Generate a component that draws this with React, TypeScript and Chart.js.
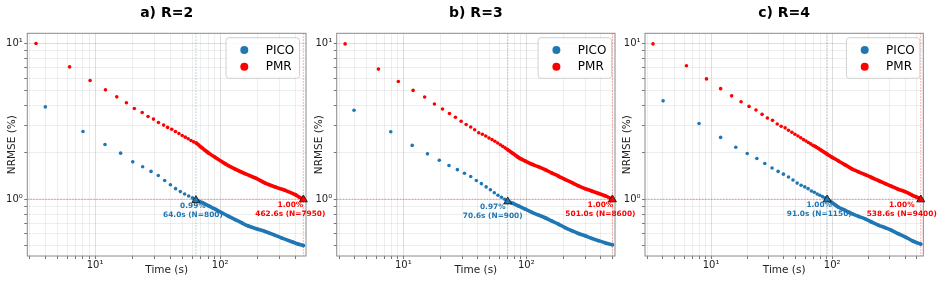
import React, { useEffect, useRef } from "react";
import { Chart, registerables } from "chart.js";

Chart.register(...registerables);

const FONT = "'DejaVu Sans', 'Liberation Sans', sans-serif";
const BLUE = "#1f77b4";
const RED = "#ff0000";

// ---------- tick values (log axes) ----------
const X_TICKS = [3, 4, 5, 6, 7, 8, 9, 10, 20, 30, 40, 50, 60, 70, 80, 90, 100, 200, 300, 400, 500];
const Y_TICKS = [0.5, 0.6, 0.7, 0.8, 0.9, 1, 2, 3, 4, 5, 6, 7, 8, 9, 10];
const X_LABELS: Record<number, string> = { 10: "10¹", 100: "10²" };
const Y_LABELS: Record<number, string> = { 1: "10⁰", 10: "10¹" };
const TITLES = ["a) R=2", "b) R=3", "c) R=4"];
const SERIES = ["PICO", "PMR"];

// ---------- panel a) R=2 ----------
const A_PICO_T = [4.0, 8.0, 12.0, 16.0, 20.0, 24.0, 28.0, 32.0, 36.0, 40.0, 44.0, 48.0, 52.0, 56.0, 60.0, 64.0, 72, 81, 92, 103, 117, 132, 150, 168, 198, 229, 270, 312, 380, 420, 462.6];
const A_PICO_V = [3.93, 2.73, 2.25, 1.98, 1.74, 1.62, 1.51, 1.42, 1.32, 1.24, 1.17, 1.12, 1.08, 1.05, 1.02, 0.99, 0.95, 0.905, 0.86, 0.818, 0.775, 0.738, 0.702, 0.672, 0.643, 0.62, 0.59, 0.562, 0.53, 0.515, 0.503];
const A_PMR_T = [3.37, 6.25, 9.12, 12.1, 14.9, 17.8, 20.6, 23.8, 26.5, 29.3, 32.1, 35.3, 38.0, 41.0, 43.9, 46.8, 49.7, 52.6, 55.5, 58.4, 61.3, 64.3, 70, 76, 81, 91, 110, 132, 158, 191, 229, 275, 331, 398, 430, 462.6];
const A_PMR_V = [10.05, 7.11, 5.81, 5.06, 4.56, 4.18, 3.84, 3.62, 3.41, 3.28, 3.12, 3.0, 2.9, 2.82, 2.73, 2.65, 2.57, 2.51, 2.45, 2.39, 2.34, 2.3, 2.17, 2.06, 1.98, 1.86, 1.69, 1.56, 1.46, 1.37, 1.27, 1.2, 1.14, 1.07, 1.03, 1.0];

// ---------- panel b) R=3 ----------
const B_PICO_T = [3.97, 7.9, 11.8, 15.7, 19.6, 23.5, 27.5, 31.4, 35.3, 39.2, 43.1, 47.1, 51.0, 54.9, 58.8, 62.8, 66.7, 70.6, 78, 86, 98, 111, 125, 142, 160, 182, 206, 234, 265, 300, 340, 385, 440, 501];
const B_PICO_V = [3.74, 2.72, 2.22, 1.96, 1.78, 1.65, 1.55, 1.47, 1.4, 1.32, 1.26, 1.2, 1.15, 1.1, 1.06, 1.03, 1.0, 0.97, 0.94, 0.906, 0.862, 0.824, 0.792, 0.76, 0.726, 0.692, 0.657, 0.627, 0.602, 0.582, 0.56, 0.541, 0.523, 0.509];
const B_PMR_T = [3.36, 6.27, 9.1, 12.0, 14.9, 17.9, 20.8, 23.7, 26.5, 29.5, 32.4, 35.3, 38.0, 41.0, 43.9, 46.8, 49.7, 52.6, 55.5, 58.5, 61.4, 64.3, 67.2, 70.1, 78, 86, 98, 111, 125, 142, 160, 182, 206, 234, 265, 300, 340, 385, 440, 501];
const B_PMR_V = [10.0, 6.88, 5.73, 5.02, 4.55, 4.1, 3.81, 3.56, 3.37, 3.18, 3.03, 2.92, 2.8, 2.68, 2.62, 2.55, 2.48, 2.42, 2.36, 2.3, 2.24, 2.19, 2.14, 2.09, 1.97, 1.86, 1.76, 1.68, 1.62, 1.55, 1.48, 1.41, 1.34, 1.28, 1.22, 1.17, 1.13, 1.09, 1.05, 1.0];

// ---------- panel c) R=4 ----------
const C_PICO_T = [4.02, 7.96, 12.0, 16.0, 19.9, 23.9, 27.8, 31.9, 35.8, 39.6, 43.6, 47.5, 51.4, 55.4, 59.4, 63.3, 67.3, 71.2, 75.2, 79.1, 83.1, 87.1, 91.0, 100, 112, 127, 145, 165, 187, 212, 240, 275, 310, 350, 399, 460, 500, 538.6];
const C_PICO_V = [4.3, 3.07, 2.5, 2.16, 1.97, 1.83, 1.7, 1.59, 1.51, 1.45, 1.39, 1.33, 1.27, 1.23, 1.2, 1.17, 1.13, 1.11, 1.08, 1.06, 1.04, 1.02, 1.0, 0.95, 0.892, 0.85, 0.808, 0.775, 0.748, 0.712, 0.682, 0.655, 0.63, 0.6, 0.573, 0.54, 0.525, 0.514];
const C_PMR_T = [3.32, 6.27, 9.17, 12.0, 14.8, 17.7, 20.6, 23.5, 26.4, 29.2, 32.2, 35.2, 37.9, 40.9, 43.6, 46.5, 49.3, 52.2, 55.0, 57.9, 60.8, 63.6, 66.5, 69.4, 72.2, 80, 91, 100, 112, 127, 145, 165, 187, 212, 240, 275, 310, 350, 399, 460, 500, 538.6];
const C_PMR_V = [10.0, 7.23, 5.95, 5.15, 4.63, 4.24, 3.96, 3.75, 3.52, 3.33, 3.22, 3.05, 2.95, 2.88, 2.78, 2.7, 2.62, 2.55, 2.49, 2.42, 2.37, 2.32, 2.27, 2.22, 2.19, 2.08, 1.95, 1.86, 1.77, 1.67, 1.57, 1.5, 1.44, 1.38, 1.32, 1.26, 1.21, 1.16, 1.12, 1.06, 1.03, 1.0];

// ---------- crossing points (time, value, N) ----------
const PICO_CROSS_T = [64.0, 70.6, 91.0];
const PICO_CROSS_V = [0.99, 0.97, 1.0];
const PICO_CROSS_N = [800, 900, 1150];
const PMR_CROSS_T = [462.6, 501.0, 538.6];
const PMR_CROSS_V = [1.0, 1.0, 1.0];
const PMR_CROSS_N = [7950, 8600, 9400];
const TARGET = 1.0;

// axis ranges
const X_MIN = [2.87, 2.87, 2.85];
const X_MAX = [485.7, 526.0, 565.5];
const Y_MIN = 0.431;
const Y_MAX = 11.7;

// time from which the markers merge into a continuous band
const PMR_DENSE_FROM = [64.3, 70.1, 72.2];

// layout (pixels)
const LAYOUT = [
  { left: 0, width: 345, plotLeft: 27.3, plotRight: 306, yTitleX: 12, legendInset: 6.5, blueDx: -3, redDx: -13 },
  { left: 309, width: 345, plotLeft: 336.7, plotRight: 615, yTitleX: 318.8, legendInset: 3.4, blueDx: -15, redDx: -12 },
  { left: 618, width: 325, plotLeft: 645, plotRight: 923.3, yTitleX: 627, legendInset: 3.4, blueDx: -8, redDx: -19 },
];

const DATA = [
  [A_PICO_T, A_PICO_V, A_PMR_T, A_PMR_V],
  [B_PICO_T, B_PICO_V, B_PMR_T, B_PMR_V],
  [C_PICO_T, C_PICO_V, C_PMR_T, C_PMR_V],
];

const H = 299;
const PLOT_BOTTOM = 256;

function makeDataset(label: string, ts: number[], vs: number[], color: string, denseFrom: number) {
  return {
    label,
    data: ts.map((t, i) => ({ x: t, y: vs[i] })),
    showLine: true,
    borderWidth: 3.6,
    borderColor: color,
    backgroundColor: color,
    borderCapStyle: "round",
    borderJoinStyle: "round",
    pointRadius: 1.8,
    pointHoverRadius: 1.8,
    pointBorderWidth: 0,
    tension: 0.3,
    cubicInterpolationMode: "monotone",
    segment: {
      borderColor: (ctx: any) => (ctx.p0.parsed.x >= denseFrom - 1e-6 ? color : "rgba(0,0,0,0)"),
    },
  };
}

function Panel({ idx }: { idx: number }) {
  const ref = useRef<HTMLCanvasElement>(null);
  const L = LAYOUT[idx];

  useEffect(() => {
    const canvas = ref.current!;
    const [pt, pv, mt, mv] = DATA[idx];

    const decor = {
      id: "decor" + idx,
      beforeDatasetsDraw(chart: any) {
        const { ctx, chartArea: a, scales } = chart;
        const xs = scales.x, ys = scales.y;
        ctx.save();
        ctx.lineWidth = 1;
        ctx.setLineDash([1.5, 1.5]);
        const yT = ys.getPixelForValue(TARGET);
        ctx.strokeStyle = "rgba(205,80,120,0.55)";
        ctx.beginPath();
        ctx.moveTo(a.left, yT);
        ctx.lineTo(a.right, yT);
        ctx.stroke();
        const xb = xs.getPixelForValue(PICO_CROSS_T[idx]);
        ctx.strokeStyle = "rgba(31,119,180,0.4)";
        ctx.beginPath();
        ctx.moveTo(xb, a.top);
        ctx.lineTo(xb, a.bottom);
        ctx.stroke();
        const xr = xs.getPixelForValue(PMR_CROSS_T[idx]);
        ctx.strokeStyle = "rgba(255,0,0,0.4)";
        ctx.beginPath();
        ctx.moveTo(xr, a.top);
        ctx.lineTo(xr, a.bottom);
        ctx.stroke();
        ctx.restore();
      },
      afterDraw(chart: any) {
        const { ctx, chartArea: a, scales } = chart;
        const xs = scales.x, ys = scales.y;
        ctx.save();
        ctx.strokeStyle = "#8a8a8a";
        ctx.lineWidth = 1;
        ctx.setLineDash([]);
        ctx.strokeRect(a.left, a.top, a.right - a.left, a.bottom - a.top);

        const marks = [
          { t: PICO_CROSS_T[idx], v: PICO_CROSS_V[idx], n: PICO_CROSS_N[idx], c: BLUE, dx: L.blueDx },
          { t: PMR_CROSS_T[idx], v: PMR_CROSS_V[idx], n: PMR_CROSS_N[idx], c: RED, dx: L.redDx },
        ];
        for (const m of marks) {
          const x = xs.getPixelForValue(m.t);
          const y = ys.getPixelForValue(m.v);
          ctx.beginPath();
          ctx.moveTo(x, y - 4.3);
          ctx.lineTo(x - 4, y + 2.6);
          ctx.lineTo(x + 4, y + 2.6);
          ctx.closePath();
          ctx.fillStyle = m.c;
          ctx.fill();
          ctx.strokeStyle = "#1a1a1a";
          ctx.lineWidth = 0.9;
          ctx.stroke();
          ctx.fillStyle = m.c;
          ctx.font = "bold 7.4px " + FONT;
          ctx.textAlign = "center";
          ctx.textBaseline = "middle";
          ctx.fillText(m.v.toFixed(2) + "%", x + m.dx, y + 6.3);
          ctx.fillText(m.t.toFixed(1) + "s (N=" + m.n + ")", x + m.dx, y + 14.8);
        }

        const lw = 73.5, lh = 40.6;
        const bx = a.right - L.legendInset - lw;
        const by = a.top + 4.4;
        ctx.beginPath();
        if ((ctx as any).roundRect) (ctx as any).roundRect(bx, by, lw, lh, 3);
        else ctx.rect(bx, by, lw, lh);
        ctx.fillStyle = "rgba(255,255,255,0.85)";
        ctx.fill();
        ctx.strokeStyle = "#d0d0d0";
        ctx.lineWidth = 1;
        ctx.stroke();
        chart.data.datasets.forEach((ds: any, i: number) => {
          const cy = by + 12.3 + i * 16.7;
          ctx.beginPath();
          ctx.arc(bx + 18.3, cy, 4, 0, Math.PI * 2);
          ctx.fillStyle = ds.borderColor;
          ctx.fill();
          ctx.fillStyle = "#000";
          ctx.font = "12px " + FONT;
          ctx.textAlign = "left";
          ctx.textBaseline = "middle";
          ctx.fillText(ds.label, bx + 39.7, cy + 0.5);
        });
        ctx.restore();
      },
    };

    const majorX = (v: number) => v === 10 || v === 100;
    const majorY = (v: number) => v === 1 || v === 10;

    const chart = new Chart(canvas, {
      type: "scatter",
      data: {
        datasets: [
          makeDataset(SERIES[0], pt, pv, BLUE, PICO_CROSS_T[idx]),
          makeDataset(SERIES[1], mt, mv, RED, PMR_DENSE_FROM[idx]),
        ] as any,
      },
      options: {
        animation: false,
        responsive: false,
        devicePixelRatio: 1,
        events: [],
        layout: { padding: { left: 0, right: L.left + L.width - L.plotRight, top: 0, bottom: 0 } },
        plugins: {
          legend: { display: false },
          tooltip: { enabled: false },
          title: {
            display: true,
            text: TITLES[idx],
            fullSize: false,
            color: "#000",
            font: { size: 14, weight: "bold", family: FONT, lineHeight: 1.2 },
            padding: { top: 4.5, bottom: 12 },
          },
        },
        scales: {
          x: {
            type: "logarithmic",
            position: "bottom",
            min: X_MIN[idx],
            max: X_MAX[idx],
            afterBuildTicks: (s: any) => {
              s.ticks = X_TICKS.filter((v) => v > s.min && v < s.max).map((v) => ({ value: v }));
            },
            afterFit: (s: any) => {
              s.height = H - PLOT_BOTTOM;
            },
            border: { display: false },
            grid: {
              color: (c: any) => (c.tick && majorX(c.tick.value) ? "rgba(0,0,0,0.13)" : "rgba(0,0,0,0.065)"),
              tickColor: "#777",
              tickLength: 3,
              lineWidth: 1,
            },
            ticks: {
              autoSkip: false,
              maxRotation: 0,
              minRotation: 0,
              padding: 0,
              color: "#222",
              font: { size: 10, family: FONT },
              callback: (v: any) => X_LABELS[Number(v)] ?? "",
            },
            title: {
              display: true,
              text: "Time (s)",
              color: "#222",
              font: { size: 10.5, family: FONT, lineHeight: 1.2 },
              padding: { top: 0, bottom: 22.2 },
            },
          },
          y: {
            type: "logarithmic",
            position: "left",
            min: Y_MIN,
            max: Y_MAX,
            afterBuildTicks: (s: any) => {
              s.ticks = Y_TICKS.filter((v) => v > s.min && v < s.max).map((v) => ({ value: v }));
            },
            afterFit: (s: any) => {
              s.width = L.plotLeft - L.left;
            },
            border: { display: false },
            grid: {
              color: (c: any) => (c.tick && majorY(c.tick.value) ? "rgba(0,0,0,0.13)" : "rgba(0,0,0,0.065)"),
              tickColor: "#777",
              tickLength: 3,
              lineWidth: 1,
            },
            ticks: {
              autoSkip: false,
              padding: 1.5,
              color: "#222",
              font: { size: 10, family: FONT },
              callback: (v: any) => Y_LABELS[Number(v)] ?? "",
            },
            title: {
              display: true,
              text: "NRMSE (%)",
              color: "#222",
              font: { size: 10.5, family: FONT, lineHeight: 1.2 },
              padding: { top: L.yTitleX - L.left - 6.3, bottom: 0 },
            },
          },
        },
      } as any,
      plugins: [decor as any],
    });
    return () => chart.destroy();
  }, [idx]);

  return (
    <canvas
      ref={ref}
      width={L.width}
      height={H}
      style={{ position: "absolute", left: L.left, top: 0, width: L.width, height: H }}
    />
  );
}

export default function App() {
  return (
    <div style={{ position: "absolute", left: 0, top: 0, width: 943, height: H, background: "#fff", overflow: "hidden" }}>
      <Panel idx={0} />
      <Panel idx={1} />
      <Panel idx={2} />
    </div>
  );
}
